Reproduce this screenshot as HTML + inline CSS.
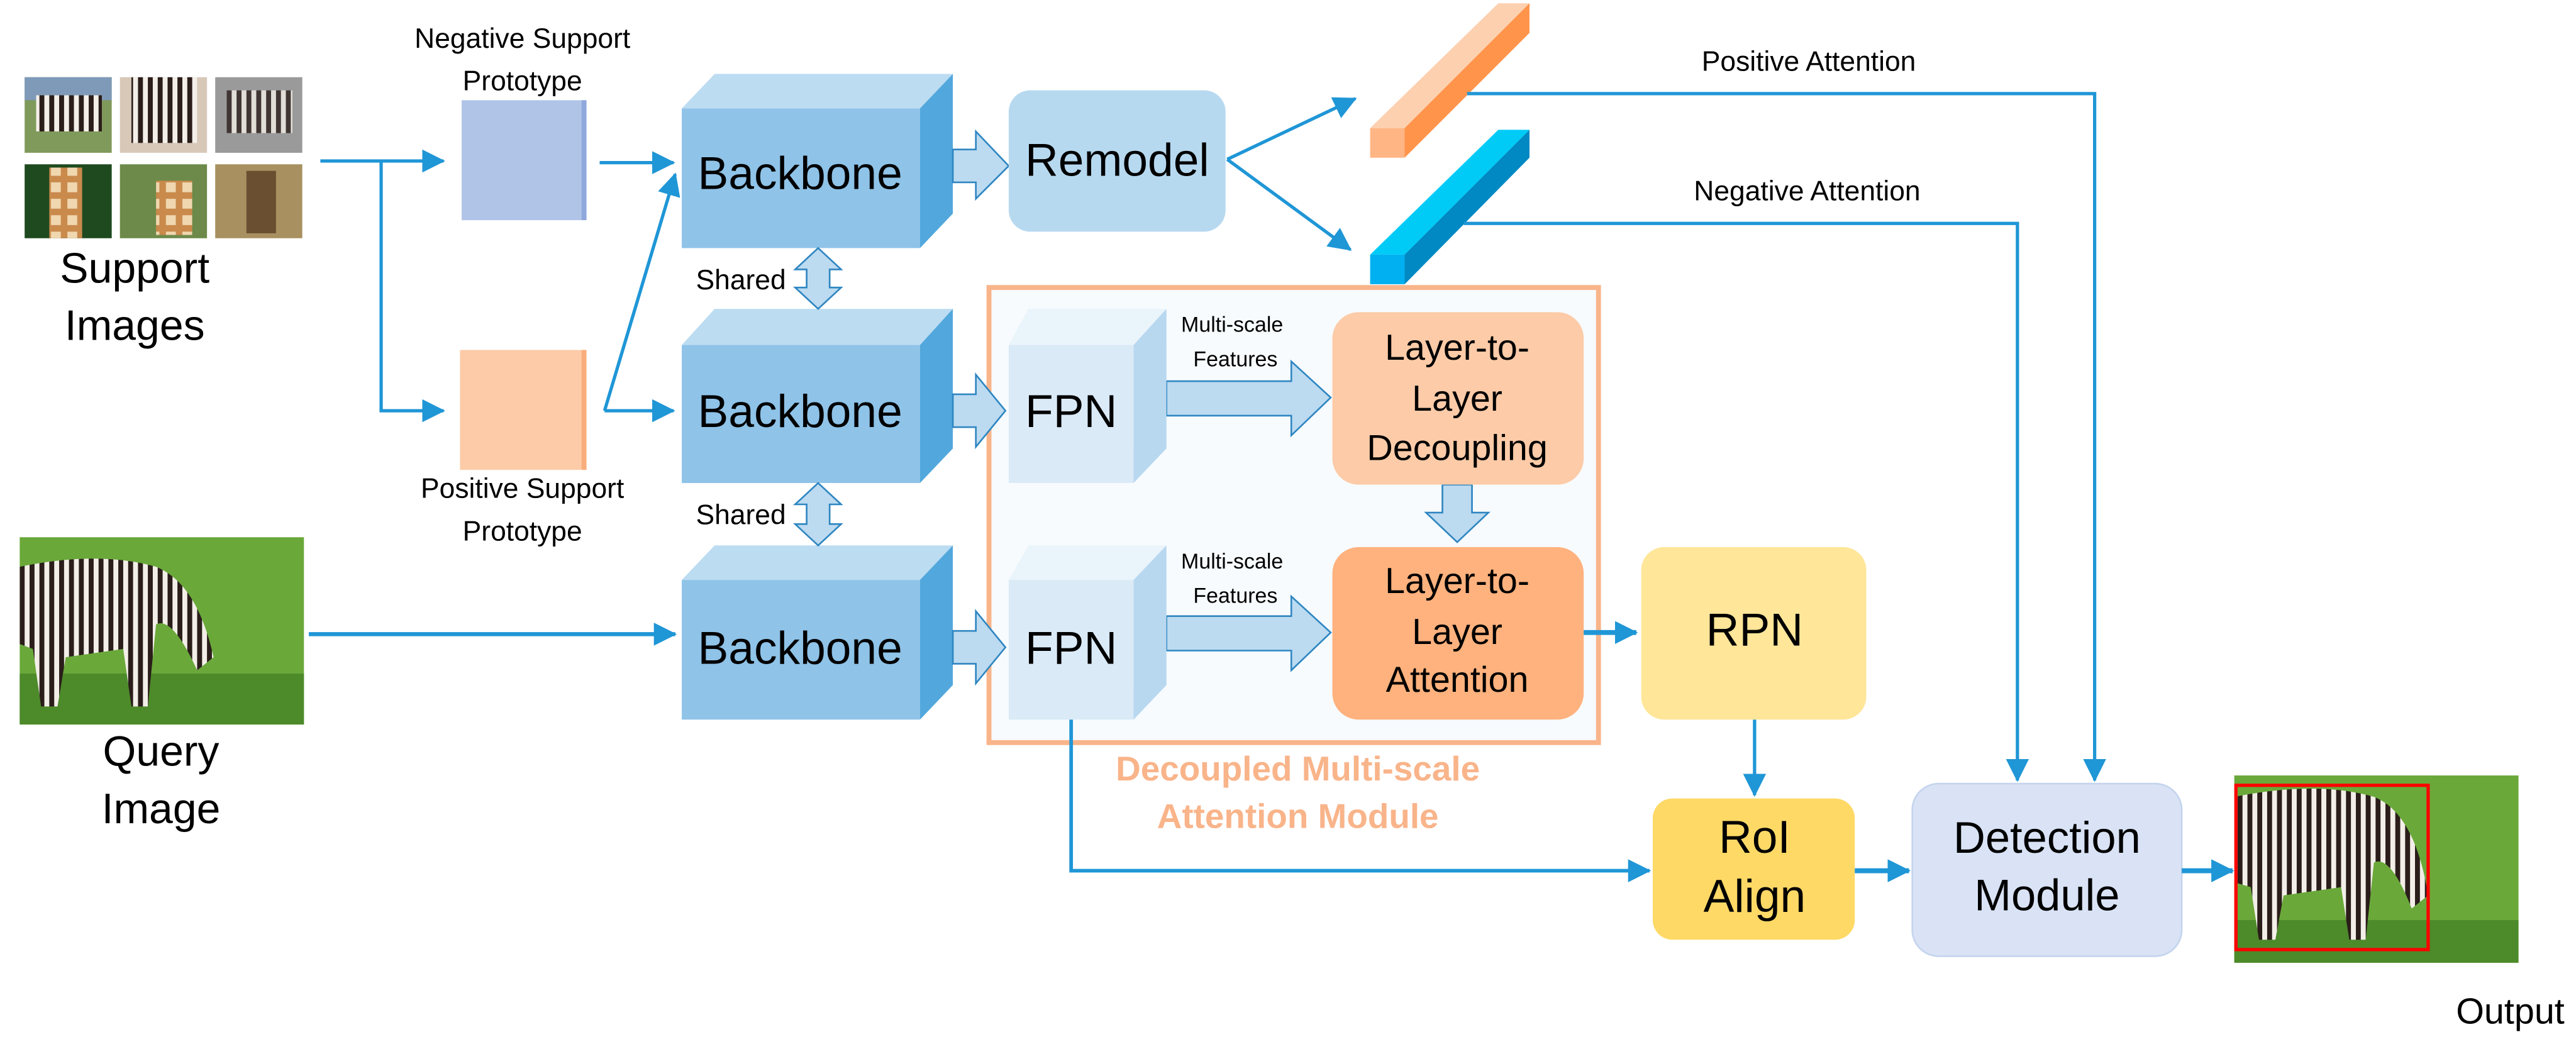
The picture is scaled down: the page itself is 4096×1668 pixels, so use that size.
<!DOCTYPE html>
<html><head><meta charset="utf-8"><style>html,body{margin:0;padding:0;background:#fff}svg{display:block}</style></head>
<body>
<svg width="4096" height="1668" viewBox="0 0 1568 638.5" preserveAspectRatio="none" xmlns="http://www.w3.org/2000/svg" font-family="Liberation Sans, Arial, sans-serif">
<defs>
<marker id="ah" markerWidth="10" markerHeight="10" refX="9" refY="5" orient="auto" markerUnits="userSpaceOnUse" viewBox="0 0 10 10"><path d="M0,0 L10,5 L0,10 z" fill="#1f96d6"/></marker>
<marker id="ah2" markerWidth="14" markerHeight="14" refX="13" refY="7" orient="auto" markerUnits="userSpaceOnUse" viewBox="0 0 14 14"><path d="M0,0 L14,7 L0,14 z" fill="#1f96d6"/></marker>
<pattern id="zs" width="6" height="10" patternUnits="userSpaceOnUse"><rect width="6" height="10" fill="#f3efe8"/><rect width="3" height="10" fill="#2a1d1a"/></pattern>
<pattern id="gs" width="10" height="10" patternUnits="userSpaceOnUse"><rect width="10" height="10" fill="#c98a4c"/><rect x="1" y="1" width="6" height="6" fill="#f0d7b0"/></pattern>
</defs>

<!-- support images -->
<g>
<rect x="15" y="47" width="53" height="46" fill="#7f9a5a"/><rect x="15" y="47" width="53" height="14" fill="#7f9ab8"/><rect x="22" y="58" width="40" height="22" fill="url(#zs)"/>
<rect x="73" y="47" width="53" height="46" fill="#d8c8b8"/><rect x="80" y="47" width="40" height="40" fill="url(#zs)"/>
<rect x="131" y="47" width="53" height="46" fill="#9a9a9a"/><rect x="138" y="55" width="40" height="26" fill="url(#zs)" opacity="0.8"/>
<rect x="15" y="100" width="53" height="45" fill="#1f4a1f"/><rect x="30" y="102" width="20" height="43" fill="url(#gs)"/>
<rect x="73" y="100" width="53" height="45" fill="#6d8a4a"/><rect x="95" y="110" width="22" height="33" fill="url(#gs)"/>
<rect x="131" y="100" width="53" height="45" fill="#a89060"/><rect x="150" y="104" width="18" height="38" fill="#6a5030"/>
</g>
<text x="82" y="172" font-size="26" text-anchor="middle">Support</text>
<text x="82" y="207" font-size="26" text-anchor="middle">Images</text>

<!-- prototype labels -->
<text x="318" y="29" font-size="17" text-anchor="middle">Negative Support</text>
<text x="318" y="55" font-size="17" text-anchor="middle">Prototype</text>
<text x="318" y="303" font-size="17" text-anchor="middle">Positive Support</text>
<text x="318" y="329" font-size="17" text-anchor="middle">Prototype</text>

<!-- prototypes -->
<rect x="281" y="61" width="75" height="73" fill="#b0c4e8"/><rect x="354" y="61" width="3" height="73" fill="#8fa8dc"/>
<rect x="280" y="213" width="76" height="73" fill="#fdcba8"/><rect x="354" y="213" width="3" height="73" fill="#f9ad7c"/>

<!-- connectors left -->
<g stroke="#1f96d6" stroke-width="2" fill="none">
<line x1="195" y1="98" x2="270" y2="98" marker-end="url(#ah2)"/>
<polyline points="232,98 232,250 270,250" marker-end="url(#ah2)"/>
<line x1="365" y1="99" x2="410" y2="99" marker-end="url(#ah2)"/>
<line x1="368" y1="250" x2="410" y2="250" marker-end="url(#ah2)"/>
<line x1="368" y1="250" x2="411" y2="106" marker-end="url(#ah2)"/>
<line x1="188" y1="386" x2="411" y2="386" stroke-width="2.5" marker-end="url(#ah2)"/>
</g>

<!-- query image -->
<rect x="12" y="327" width="173" height="114" fill="#6aa83a"/>
<rect x="12" y="410" width="173" height="31" fill="#4d8a2a"/>
<path d="M12,345 Q60,335 95,345 Q120,355 130,400 L120,408 Q105,375 95,380 L90,430 L80,430 L75,395 L40,400 L35,430 L25,430 L20,395 L12,392 z" fill="url(#zs)"/>

<text x="98" y="466" font-size="26" text-anchor="middle">Query</text>
<text x="98" y="501" font-size="26" text-anchor="middle">Image</text>

<!-- backbones -->
<g>
<polygon points="415,66 435,45 580,45 560,66" fill="#bcdcf2"/><rect x="415" y="66" width="145" height="85" fill="#8fc3e8"/><polygon points="560,66 580,45 580,130 560,151" fill="#52a8dc"/>
<text x="487" y="115" font-size="28" text-anchor="middle">Backbone</text>
<polygon points="415,210 435,188 580,188 560,210" fill="#bcdcf2"/><rect x="415" y="210" width="145" height="84" fill="#8fc3e8"/><polygon points="560,210 580,188 580,273 560,294" fill="#52a8dc"/>
<text x="487" y="260" font-size="28" text-anchor="middle">Backbone</text>
<polygon points="415,353 435,332 580,332 560,353" fill="#bcdcf2"/><rect x="415" y="353" width="145" height="85" fill="#8fc3e8"/><polygon points="560,353 580,332 580,417 560,438" fill="#52a8dc"/>
<text x="487" y="404" font-size="28" text-anchor="middle">Backbone</text>
</g>

<!-- shared double arrows -->
<g fill="#bcdaf0" stroke="#2e86c1" stroke-width="1">
<polygon points="498,151 512,164 505,164 505,175 512,175 498,188 484,175 491,175 491,164 484,164"/>
<polygon points="498,294 512,307 505,307 505,319 512,319 498,332 484,319 491,319 491,307 484,307"/>
</g>
<text x="451" y="176" font-size="17" text-anchor="middle">Shared</text>
<text x="451" y="319" font-size="17" text-anchor="middle">Shared</text>

<!-- decoupled module box -->
<rect x="602" y="175" width="371" height="277" fill="#f7fbfe" stroke="#f9b48a" stroke-width="3"/>
<text x="790" y="475" font-size="21" font-weight="bold" fill="#f9b48a" text-anchor="middle">Decoupled Multi-scale</text>
<text x="790" y="504" font-size="21" font-weight="bold" fill="#f9b48a" text-anchor="middle">Attention Module</text>

<!-- block arrows -->
<g fill="#bcdaf0" stroke="#2e86c1" stroke-width="1">
<polygon points="580,91 594,91 594,80 614,101 594,121 594,111 580,111"/>
<polygon points="580,240 594,240 594,228 612,250 594,272 594,260 580,260"/>
<polygon points="580,384 594,384 594,372 612,394 594,416 594,404 580,404"/>
<polygon points="710,232 786,232 786,220 810,242 786,265 786,253 710,253"/>
<polygon points="710,375 786,375 786,363 810,385 786,408 786,396 710,396"/>
<polygon points="878,295 896,295 896,312 906,312 887,330 868,312 878,312"/>
</g>

<!-- FPNs -->
<polygon points="614,210 626,188 710,188 690,210" fill="#eaf4fb"/><rect x="614" y="210" width="76" height="84" fill="#dbeaf7"/><polygon points="690,210 710,188 710,273 690,294" fill="#b8d8f0"/>
<text x="652" y="260" font-size="28" text-anchor="middle">FPN</text>
<polygon points="614,353 626,332 710,332 690,353" fill="#eaf4fb"/><rect x="614" y="353" width="76" height="85" fill="#dbeaf7"/><polygon points="690,353 710,332 710,417 690,438" fill="#b8d8f0"/>
<text x="652" y="404" font-size="28" text-anchor="middle">FPN</text>

<text x="750" y="202" font-size="13" text-anchor="middle">Multi-scale</text>
<text x="752" y="223" font-size="13" text-anchor="middle">Features</text>
<text x="750" y="346" font-size="13" text-anchor="middle">Multi-scale</text>
<text x="752" y="367" font-size="13" text-anchor="middle">Features</text>

<!-- remodel -->
<rect x="614" y="55" width="132" height="86" rx="13" fill="#b7d9f0"/>
<text x="680" y="107" font-size="28" text-anchor="middle">Remodel</text>
<g stroke="#1f96d6" stroke-width="2" fill="none">
<line x1="747" y1="97" x2="825" y2="60" marker-end="url(#ah2)"/>
<line x1="747" y1="97" x2="822" y2="152" marker-end="url(#ah2)"/>
</g>

<!-- attention bars -->
<polygon points="834,78 912,2 931,2 855,78" fill="#fdd0b0"/>
<rect x="834" y="78" width="21" height="18" fill="#ffb584"/>
<polygon points="855,78 931,2 931,20 855,96" fill="#ff944a"/>
<polygon points="834,155 912,79 931,79 855,155" fill="#00cbf7"/>
<rect x="834" y="155" width="21" height="18" fill="#00b0f0"/>
<polygon points="855,155 931,79 931,96 855,173" fill="#0089c2"/>

<text x="1101" y="43" font-size="17" text-anchor="middle">Positive Attention</text>
<text x="1100" y="122" font-size="17" text-anchor="middle">Negative Attention</text>
<g stroke="#1f96d6" stroke-width="2" fill="none">
<polyline points="893,57 1275,57 1275,475" marker-end="url(#ah2)"/>
<polyline points="891,136 1228,136 1228,475" marker-end="url(#ah2)"/>
</g>

<!-- L2L boxes -->
<rect x="811" y="190" width="153" height="105" rx="16" fill="#fdcba8"/>
<text x="887" y="219" font-size="22" text-anchor="middle">Layer-to-</text>
<text x="887" y="250" font-size="22" text-anchor="middle">Layer</text>
<text x="887" y="280" font-size="22" text-anchor="middle">Decoupling</text>
<rect x="811" y="333" width="153" height="105" rx="16" fill="#ffb27e"/>
<text x="887" y="361" font-size="22" text-anchor="middle">Layer-to-</text>
<text x="887" y="392" font-size="22" text-anchor="middle">Layer</text>
<text x="887" y="421" font-size="22" text-anchor="middle">Attention</text>

<!-- RPN / RoI / Detection -->
<rect x="999" y="333" width="137" height="105" rx="14" fill="#ffe699"/>
<text x="1068" y="393" font-size="28" text-anchor="middle">RPN</text>
<rect x="1006" y="486" width="123" height="86" rx="12" fill="#ffd966"/>
<text x="1068" y="519" font-size="28" text-anchor="middle">RoI</text>
<text x="1068" y="555" font-size="28" text-anchor="middle">Align</text>
<rect x="1164" y="477" width="164" height="105" rx="16" fill="#d9e3f5" stroke="#c4d4ee" stroke-width="1"/>
<text x="1246" y="519" font-size="27" text-anchor="middle">Detection</text>
<text x="1246" y="554" font-size="27" text-anchor="middle">Module</text>

<g stroke="#1f96d6" stroke-width="2" fill="none">
<line x1="964" y1="385" x2="996" y2="385" stroke-width="3" marker-end="url(#ah2)"/>
<line x1="1068" y1="438" x2="1068" y2="484" marker-end="url(#ah2)"/>
<polyline points="652,438 652,530 1004,530" stroke-width="2.2" marker-end="url(#ah2)"/>
<line x1="1129" y1="530" x2="1162" y2="530" stroke-width="3" marker-end="url(#ah2)"/>
<line x1="1328" y1="530" x2="1359" y2="530" stroke-width="3" marker-end="url(#ah2)"/>
</g>

<!-- output image -->
<rect x="1360" y="472" width="173" height="114" fill="#6aa83a"/>
<rect x="1360" y="560" width="173" height="26" fill="#4d8a2a"/>
<path d="M1360,485 Q1410,475 1445,485 Q1470,495 1478,545 L1468,553 Q1455,520 1445,525 L1440,572 L1430,572 L1425,540 L1390,545 L1385,572 L1375,572 L1370,540 L1360,537 z" fill="url(#zs)"/>
<rect x="1361" y="478" width="117" height="100" fill="none" stroke="#ff0000" stroke-width="2"/>
<text x="1528" y="623" font-size="22" text-anchor="middle">Output</text>
</svg>
</body></html>
